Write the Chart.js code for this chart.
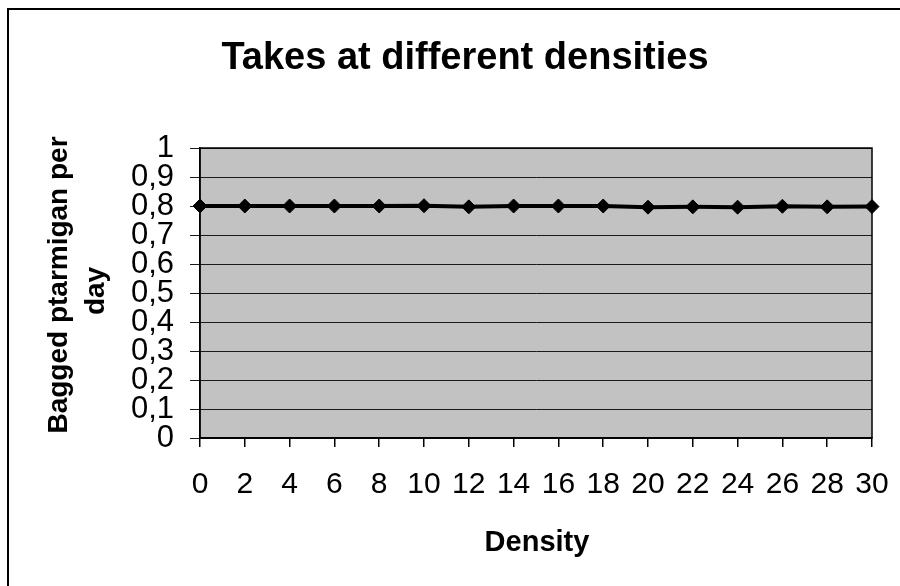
<!DOCTYPE html>
<html>
<head>
<meta charset="utf-8">
<script src="https://cdn.jsdelivr.net/npm/chart.js@4/dist/chart.umd.min.js"></script>
<style>
  html, body { margin: 0; padding: 0; background: #ffffff; }
  #wrap { width: 900px; height: 586px; }
</style>
</head>
<body>
<div id="wrap"><canvas id="c" width="900" height="586"></canvas></div>
<script>
const chartTitle = 'Takes at different densities';
const xTitle = 'Density';
const yTitleLines = ['Bagged ptarmigan per', 'day'];
const densities = [0, 2, 4, 6, 8, 10, 12, 14, 16, 18, 20, 22, 24, 26, 28, 30];
const takes = [0.800, 0.800, 0.800, 0.800, 0.800, 0.801, 0.797, 0.800, 0.800, 0.800, 0.796, 0.797, 0.796, 0.799, 0.797, 0.798];
const yTickLabels = ['0', '0,1', '0,2', '0,3', '0,4', '0,5', '0,6', '0,7', '0,8', '0,9', '1'];
const xTickLabels = ['0', '2', '4', '6', '8', '10', '12', '14', '16', '18', '20', '22', '24', '26', '28', '30'];

const FONT = "'Liberation Sans', Arial, Helvetica, sans-serif";

const framePlugin = {
  id: 'frame',
  beforeDraw(chart) {
    const { ctx, chartArea: a } = chart;
    ctx.save();
    ctx.fillStyle = '#ffffff';
    ctx.fillRect(0, 0, chart.width, chart.height);
    ctx.fillStyle = '#c2c2c2';
    ctx.fillRect(a.left, a.top, a.right - a.left, a.bottom - a.top);
    ctx.restore();
  },
  afterDraw(chart) {
    const { ctx, chartArea: a } = chart;
    ctx.save();
    ctx.strokeStyle = '#000000';
    ctx.lineWidth = 1.5;
    ctx.strokeRect(a.left, a.top, a.right - a.left, a.bottom - a.top);
    ctx.lineWidth = 2;
    ctx.beginPath();
    ctx.moveTo(8, chart.height);
    ctx.lineTo(8, 9);
    ctx.lineTo(chart.width, 9);
    ctx.stroke();
    ctx.fillStyle = '#000000';
    ctx.textAlign = 'center';
    ctx.textBaseline = 'alphabetic';
    ctx.font = 'bold 38px ' + FONT;
    ctx.fillText(chartTitle, 465, 69);
    ctx.font = 'bold 29px ' + FONT;
    ctx.fillText(xTitle, 537, 551);
    ctx.font = 'bold 28px ' + FONT;
    const yPos = [[67, 285], [104, 291]];
    yTitleLines.forEach((t, i) => {
      ctx.save();
      ctx.translate(yPos[i][0], yPos[i][1]);
      ctx.rotate(-Math.PI / 2);
      ctx.fillText(t, 0, 0);
      ctx.restore();
    });
    ctx.restore();
  }
};

new Chart(document.getElementById('c'), {
  type: 'line',
  data: {
    datasets: [{
      data: densities.map((d, i) => ({ x: d, y: takes[i] })),
      borderColor: '#000000',
      backgroundColor: '#000000',
      borderWidth: 4,
      pointStyle: 'rectRot',
      pointRadius: 7,
      pointBorderWidth: 1,
      pointBorderColor: '#000000',
      pointBackgroundColor: '#000000',
      tension: 0,
      fill: false,
      clip: false
    }]
  },
  options: {
    responsive: false,
    animation: false,
    devicePixelRatio: 1,
    layout: { padding: { left: 0, right: 28, top: 148, bottom: 0 } },
    plugins: { legend: { display: false }, title: { display: false }, tooltip: { enabled: false } },
    scales: {
      x: {
        type: 'linear',
        min: 0,
        max: 30,
        afterFit(s) { s.height = 148; s.paddingLeft = 0; s.paddingRight = 0; },
        afterBuildTicks(s) { s.ticks = densities.map(v => ({ value: v })); },
        ticks: {
          autoSkip: false,
          maxRotation: 0,
          padding: 20,
          color: '#000000',
          font: { family: FONT, size: 30 },
          callback: (v, i) => xTickLabels[i]
        },
        grid: { drawOnChartArea: false, drawTicks: true, tickLength: 9, color: '#000000', lineWidth: 1.5 },
        border: { display: true, color: '#000000', width: 1.5 }
      },
      y: {
        type: 'linear',
        min: 0,
        max: 1,
        afterFit(s) { s.width = 200; s.paddingTop = 0; s.paddingBottom = 0; },
        ticks: {
          stepSize: 0.1,
          autoSkip: false,
          padding: 16,
          color: '#000000',
          font: { family: FONT, size: 31 },
          callback: (v, i) => yTickLabels[i]
        },
        grid: { drawOnChartArea: true, drawTicks: true, tickLength: 10, color: '#1a1a1a', lineWidth: 1 },
        border: { display: true, color: '#000000', width: 1.5 }
      }
    }
  },
  plugins: [framePlugin]
});
</script>
</body>
</html>
